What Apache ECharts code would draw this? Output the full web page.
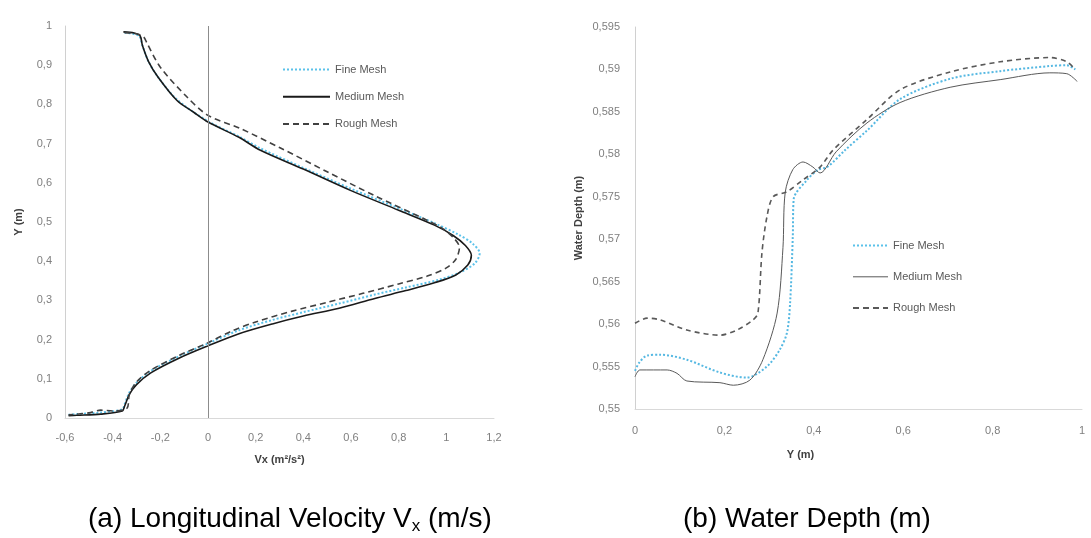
<!DOCTYPE html>
<html>
<head>
<meta charset="utf-8">
<script src="https://cdn.jsdelivr.net/npm/echarts@6/dist/echarts.min.js"></script>
<style>
html,body{margin:0;padding:0;background:#fff;}
#chart{width:1091px;height:538px;}
</style>
</head>
<body>
<div id="chart"></div>
<script>
// ---------- Chart (a): Longitudinal velocity profile [Vx, Y] ----------
var velXTicks = [-0.6, -0.4, -0.2, 0, 0.2, 0.4, 0.6, 0.8, 1, 1.2];
var velYTicks = [0, 0.1, 0.2, 0.3, 0.4, 0.5, 0.6, 0.7, 0.8, 0.9, 1];
var velFine = [
  [-0.35,0.983],[-0.29,0.975],[-0.275,0.95],[-0.25,0.91],[-0.21,0.87],[-0.13,0.812],
  [0,0.757],[0.13,0.718],[0.22,0.688],[0.4,0.638],[0.6,0.585],[0.8,0.535],[0.95,0.497],
  [1.05,0.468],[1.11,0.445],[1.14,0.42],[1.12,0.395],[1.06,0.372],[0.97,0.353],[0.83,0.333],
  [0.7,0.315],[0.55,0.292],[0.4,0.27],[0.27,0.25],[0.13,0.224],[0,0.19],[-0.12,0.158],
  [-0.24,0.12],[-0.3,0.09],[-0.33,0.065],[-0.35,0.035],[-0.36,0.022],[-0.45,0.014],
  [-0.55,0.01],[-0.585,0.008]
];
var velMedium = [
  [-0.355,0.985],[-0.31,0.982],[-0.285,0.975],[-0.275,0.95],[-0.25,0.91],[-0.21,0.87],
  [-0.13,0.81],[-0.06,0.78],[0,0.755],[0.13,0.716],[0.22,0.683],[0.4,0.635],[0.6,0.58],
  [0.8,0.53],[0.95,0.492],[1.03,0.465],[1.08,0.44],[1.105,0.415],[1.09,0.39],[1.04,0.365],
  [0.95,0.345],[0.83,0.325],[0.7,0.305],[0.55,0.28],[0.4,0.26],[0.27,0.24],[0.13,0.215],
  [0,0.184],[-0.12,0.153],[-0.24,0.115],[-0.3,0.085],[-0.33,0.06],[-0.35,0.03],
  [-0.36,0.018],[-0.45,0.01],[-0.55,0.007],[-0.585,0.006]
];
var velRough = [
  [-0.35,0.983],[-0.3,0.98],[-0.27,0.972],[-0.256,0.956],[-0.2,0.895],[-0.09,0.82],
  [0,0.772],[0.134,0.739],[0.3,0.69],[0.5,0.628],[0.7,0.567],[0.9,0.51],[0.98,0.485],
  [1.03,0.46],[1.055,0.435],[1.04,0.405],[1.0,0.383],[0.92,0.362],[0.8,0.342],[0.65,0.318],
  [0.5,0.295],[0.35,0.272],[0.2,0.245],[0.1,0.222],[0,0.192],[-0.12,0.16],[-0.24,0.122],
  [-0.3,0.092],[-0.33,0.06],[-0.34,0.025],[-0.4,0.018],[-0.45,0.02],[-0.5,0.013],
  [-0.55,0.01],[-0.585,0.008]
];

// ---------- Chart (b): Water depth [Y, depth] ----------
var depthXTicks = [0, 0.2, 0.4, 0.6, 0.8, 1];
var depthYTicks = [0.55, 0.555, 0.56, 0.565, 0.57, 0.575, 0.58, 0.585, 0.59, 0.595];
var depthFine = [
  [0,0.5545],[0.01,0.5555],[0.027,0.5563],[0.056,0.5564],[0.116,0.5558],[0.19,0.5543],
  [0.25,0.5537],[0.295,0.555],[0.324,0.557],[0.34,0.559],[0.347,0.5625],[0.353,0.5703],
  [0.355,0.5747],[0.385,0.577],[0.41,0.5782],[0.43,0.5785],[0.47,0.5805],[0.519,0.5828],
  [0.593,0.5865],[0.705,0.5889],[0.817,0.5898],[0.928,0.5904],[0.966,0.5905],[0.985,0.59]
];
var depthMedium = [
  [0,0.5538],[0.011,0.5546],[0.072,0.5546],[0.094,0.5542],[0.116,0.5533],[0.19,0.5531],
  [0.22,0.5528],[0.257,0.5534],[0.286,0.5558],[0.318,0.5613],[0.331,0.569],[0.336,0.5755],
  [0.353,0.5782],[0.376,0.5791],[0.398,0.5785],[0.414,0.5778],[0.45,0.5803],[0.519,0.5837],
  [0.593,0.5861],[0.705,0.5879],[0.817,0.5888],[0.928,0.5896],[0.966,0.5895],[0.989,0.5886]
];
var depthRough = [
  [0,0.5601],[0.027,0.5607],[0.056,0.5605],[0.116,0.5593],[0.19,0.5587],[0.228,0.5593],
  [0.264,0.5605],[0.275,0.5613],[0.284,0.5684],[0.295,0.5726],[0.309,0.575],[0.34,0.5756],
  [0.376,0.577],[0.414,0.5785],[0.443,0.5805],[0.519,0.5841],[0.593,0.5876],[0.705,0.5897],
  [0.817,0.5909],[0.928,0.5914],[0.966,0.5909],[0.985,0.59]
];

var seriesNames = ['Fine Mesh', 'Medium Mesh', 'Rough Mesh'];
var captionA = ['(a) Longitudinal Velocity V', 'x', ' (m/s)'];
var captionB = '(b) Water Depth (m)';

function fmt(v) { return String(+v.toFixed(3)).replace('.', ','); }

var FONT = 'Liberation Sans';
var labelStyle = { color: '#7f7f7f', fontSize: 11, fontFamily: FONT };
var nameStyle = { color: '#404040', fontSize: 11, fontWeight: 'bold', fontFamily: FONT };

var chart = echarts.init(document.getElementById('chart'), null, { renderer: 'canvas' });

var option = {
  animation: false,
  backgroundColor: '#ffffff',
  grid: [
    { left: 65, top: 26, width: 429, height: 392 },
    { left: 635, top: 27, width: 447, height: 382 }
  ],
  xAxis: [
    {
      gridIndex: 0, type: 'value', min: -0.6, max: 1.2, interval: 0.2,
      name: 'Vx (m²/s²)', nameLocation: 'middle', nameGap: 36, nameTextStyle: nameStyle,
      axisLine: { show: true, onZero: false, lineStyle: { color: '#d9d9d9', width: 1 } },
      axisTick: { show: false }, splitLine: { show: false },
      axisLabel: Object.assign({ margin: 14, formatter: fmt }, labelStyle)
    },
    {
      gridIndex: 1, type: 'value', min: 0, max: 1, interval: 0.2,
      name: 'Y (m)', nameLocation: 'middle', nameGap: 40,
      nameTextStyle: Object.assign({ padding: [0, 116, 0, 0] }, nameStyle),
      axisLine: { show: true, onZero: false, lineStyle: { color: '#d9d9d9', width: 1 } },
      axisTick: { show: false }, splitLine: { show: false },
      axisLabel: Object.assign({ margin: 16, formatter: fmt }, labelStyle)
    }
  ],
  yAxis: [
    {
      gridIndex: 0, type: 'value', min: 0, max: 1, interval: 0.1,
      name: 'Y (m)', nameLocation: 'middle', nameGap: 41, nameTextStyle: nameStyle,
      axisLine: { show: true, onZero: false, lineStyle: { color: '#d0d0d0', width: 1 } },
      axisTick: { show: false }, splitLine: { show: false },
      axisLabel: Object.assign({ margin: 13, formatter: fmt }, labelStyle)
    },
    {
      gridIndex: 1, type: 'value', min: 0.55, max: 0.595, interval: 0.005,
      name: 'Water Depth (m)', nameLocation: 'middle', nameGap: 51, nameTextStyle: nameStyle,
      axisLine: { show: true, onZero: false, lineStyle: { color: '#d0d0d0', width: 1 } },
      axisTick: { show: false }, splitLine: { show: false },
      axisLabel: Object.assign({ margin: 15, formatter: fmt }, labelStyle)
    }
  ],
  legend: [
    {
      left: 277, top: 59, orient: 'vertical', itemWidth: 47, itemHeight: 14, itemGap: 16,
      itemStyle: { opacity: 0 },
      textStyle: { color: '#595959', fontSize: 11, fontFamily: FONT },
      data: seriesNames.slice()
    },
    {
      left: 847, top: 235, orient: 'vertical', itemWidth: 35, itemHeight: 14, itemGap: 20,
      itemStyle: { opacity: 0 },
      textStyle: { color: '#595959', fontSize: 11, fontFamily: FONT },
      data: [
        { name: seriesNames[0] },
        { name: seriesNames[1], lineStyle: { color: '#595959', width: 1 } },
        { name: seriesNames[2], lineStyle: { color: '#595959' } }
      ]
    }
  ],
  graphic: [
    {
      type: 'text', left: 88, top: 505,
      style: {
        text: '{n|' + captionA[0] + '}{s|' + captionA[1] + '}{n|' + captionA[2] + '}',
        rich: {
          n: { fontSize: 28, fontFamily: FONT, fill: '#000' },
          s: { fontSize: 17, fontFamily: FONT, fill: '#000', padding: [14, 0, 0, 0] }
        }
      }
    },
    {
      type: 'text', left: 683, top: 505,
      style: { text: captionB, font: '28px "Liberation Sans"', fill: '#000' }
    }
  ],
  series: [
    {
      name: seriesNames[0], type: 'line', xAxisIndex: 0, yAxisIndex: 0, data: velFine,
      symbol: 'none', smooth: 0.3, z: 2,
      lineStyle: { color: '#5bc2ea', width: 2, type: 'dotted' }, itemStyle: { color: '#5bc2ea' }
    },
    {
      name: seriesNames[1], type: 'line', xAxisIndex: 0, yAxisIndex: 0, data: velMedium,
      symbol: 'none', smooth: 0.3, z: 3,
      lineStyle: { color: '#1a1a1a', width: 1.6, type: 'solid' }, itemStyle: { color: '#1a1a1a' },
      markLine: {
        silent: true, symbol: ['none', 'none'], label: { show: false },
        lineStyle: { color: '#8c8c8c', width: 1, type: 'solid' },
        data: [{ xAxis: 0 }]
      }
    },
    {
      name: seriesNames[2], type: 'line', xAxisIndex: 0, yAxisIndex: 0, data: velRough,
      symbol: 'none', smooth: 0.3, z: 4,
      lineStyle: { color: '#404040', width: 1.6, type: [6, 4] }, itemStyle: { color: '#404040' }
    },
    {
      name: seriesNames[0], type: 'line', xAxisIndex: 1, yAxisIndex: 1, data: depthFine,
      symbol: 'none', smooth: 0.3, z: 2,
      lineStyle: { color: '#55b8e2', width: 2, type: 'dotted' }, itemStyle: { color: '#55b8e2' }
    },
    {
      name: seriesNames[1], type: 'line', xAxisIndex: 1, yAxisIndex: 1, data: depthMedium,
      symbol: 'none', smooth: 0.3, z: 3,
      lineStyle: { color: '#595959', width: 1, type: 'solid' }, itemStyle: { color: '#595959' }
    },
    {
      name: seriesNames[2], type: 'line', xAxisIndex: 1, yAxisIndex: 1, data: depthRough,
      symbol: 'none', smooth: 0.3, z: 4,
      lineStyle: { color: '#595959', width: 1.6, type: [5, 4] }, itemStyle: { color: '#595959' }
    }
  ]
};
chart.setOption(option);
</script>
</body>
</html>
